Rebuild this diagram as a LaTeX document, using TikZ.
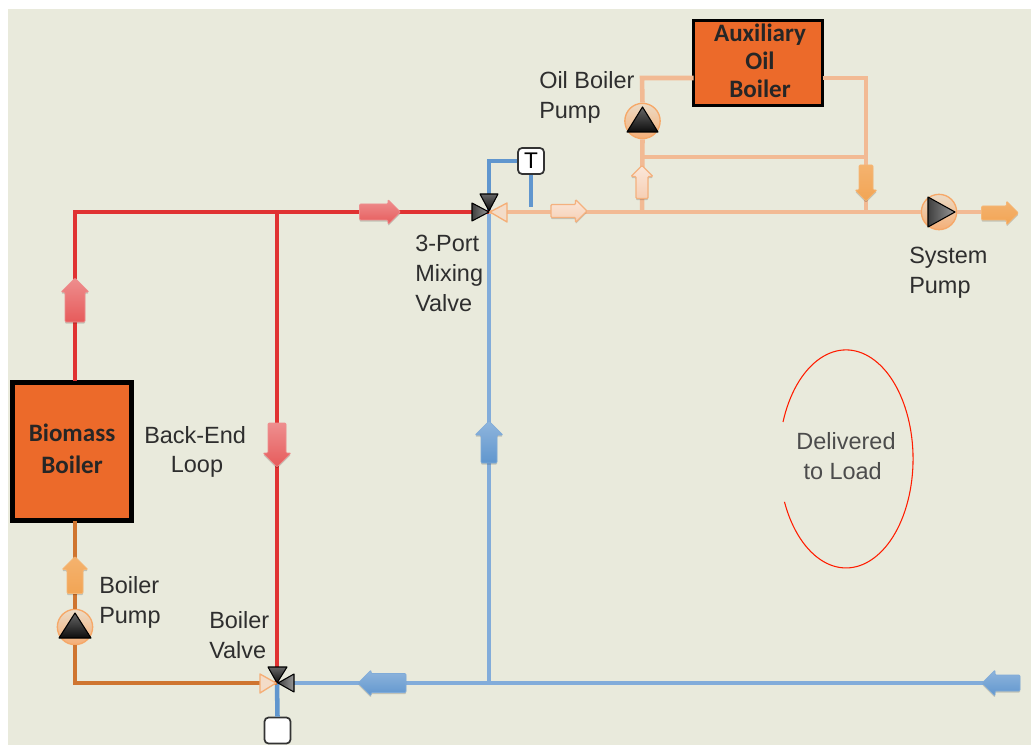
\documentclass[tikz,border=0pt]{standalone}
\usepackage{fontspec}
\setmainfont{Liberation Sans}
\newfontfamily\boxfont{Carlito}
\usetikzlibrary{shadings}
\definecolor{bg}{HTML}{E9EADC}
\definecolor{redpipe}{HTML}{E03232}
\definecolor{bluepipe}{HTML}{82ACDA}
\definecolor{bluedark}{HTML}{6096CE}
\definecolor{brownpipe}{HTML}{CF7530}
\definecolor{lightpipe}{HTML}{F2BA94}
\definecolor{boilerfill}{HTML}{EC6A2A}
\definecolor{labelgrey}{HTML}{2E2E2E}
\definecolor{arrorangec}{HTML}{F2A555}
\tikzset{
  x=0.75pt,y=-0.75pt,
  pipe/.style={line width=3.4pt,line join=miter},
  redline/.style={pipe,draw=redpipe},
  blueline/.style={pipe,draw=bluepipe},
  ctrlline/.style={pipe,draw=bluedark},
  brownline/.style={pipe,draw=brownpipe},
  lightline/.style={pipe,draw=lightpipe},
  boiler/.style={draw=black,fill=boilerfill,align=center,inner sep=0pt,outer sep=0pt,text=black!85},
  lbl/.style={align=left,anchor=north west,inner sep=0pt,text=labelgrey,
    font=\fontsize{17.6}{22.5}\selectfont},
  ctrl/.style={draw=black!80,fill=white,rounded corners=3pt,line width=1.3pt,
    minimum size=19.5pt,inner sep=0pt,font=\fontsize{17}{17}\selectfont},
  pumpring/.style={circle,draw=lightpipe!70!orange,line width=1pt,minimum size=26.5pt,inner sep=0pt,
    top color=bg!70!lightpipe,bottom color=lightpipe!80!orange},
  darktri/.style={draw=black,line width=0.8pt,line join=round,top color=black!60,bottom color=black!95},
  greytri/.style={draw=black,line width=0.8pt,line join=round,left color=black!75,right color=black!40},
  portL/.style={draw=lightpipe!80!orange,line width=1pt,line join=round,fill=bg!40!lightpipe!70!white},
  arrred/.style={top color=redpipe!55!white,bottom color=redpipe!80!white,draw=redpipe!55!white,line width=0.5pt},
  arrblue/.style={top color=bluedark!70!white,bottom color=bluedark,draw=bluedark!80!white,line width=0.5pt},
  arrorange/.style={top color=arrorangec!85!white,bottom color=arrorangec,draw=arrorangec!80!white,line width=0.5pt},
  arrpale/.style={top color=lightpipe!35!white,bottom color=lightpipe!70!white,draw=lightpipe!85!orange,line width=0.9pt},
  arrshadow/.style={fill=black,opacity=0.17},
}
% \blockarrow{rotation}{x}{y}{length}{shaft}{head}{fill style}
\newcommand{\arrowoutline}[3]{%
  (-#1/2,-#2/2) -- (#1/2-#3/2,-#2/2) -- (#1/2-#3/2,-#3/2) -- (#1/2,0)
  -- (#1/2-#3/2,#3/2) -- (#1/2-#3/2,#2/2) -- (-#1/2,#2/2) -- cycle}
\newcommand{\blockarrow}[7]{%
  \begin{scope}[shift={(#2,#3+1.6)},rotate=#1]
    \path[arrshadow,rounded corners=0.8pt] \arrowoutline{#4}{#5}{#6};
  \end{scope}
  \begin{scope}[shift={(#2,#3)},rotate=#1]
    \path[#7,rounded corners=0.8pt] \arrowoutline{#4}{#5}{#6};
  \end{scope}}
\begin{document}
\begin{tikzpicture}
\useasboundingbox (0,0) rectangle (1031,745);
\fill[bg] (8,9) rectangle (1031,745);
% fixed points
\coordinate (bbTop) at (75,381);
\coordinate (corner1) at (75,212);
\coordinate (teeTop) at (277,212);
\coordinate (mix) at (489,212);
\coordinate (mixTee) at (489,683);
\coordinate (bvalve) at (277,683);
\coordinate (corner2) at (75,683);
\coordinate (ctrlCorner) at (489,161);
\coordinate (sensorFoot) at (531,207);
\coordinate (teeA) at (642,212);
\coordinate (teeB) at (866,212);
\coordinate (byA) at (642,157);
\coordinate (byB) at (866,157);
\coordinate (cA) at (642,78);
\coordinate (cB) at (866,78);
\coordinate (outEnd) at (1000,212);
\coordinate (inEnd) at (1000,683);
% nodes
\node[boiler,line width=3.4pt,minimum width=89.6pt,minimum height=103.5pt,text depth=4.5pt,
  font=\boxfont\bfseries\fontsize{18.8}{24}\selectfont] (biomass) at (72,451.5) {Biomass\\Boiler};
\node[boiler,line width=2.4pt,minimum width=96.75pt,minimum height=63.75pt,text depth=3pt,
  font=\boxfont\bfseries\fontsize{18.8}{21}\selectfont] (aux) at (758,63) {\hspace*{3pt}Auxiliary\\\hspace*{3pt}Oil\\\hspace*{3pt}Boiler};
\node[ctrl] (tbox) at (531,161) {T};
\node[ctrl] (vbox) at (277.5,730.5) {};
\node[pumpring] (p1) at (642.5,121) {};
\node[pumpring] (p2) at (75,627) {};
\node[pumpring] (p3) at (939,212) {};
% pipes
\draw[blueline] (mix) -- (mixTee);
\draw[blueline] (bvalve) -- (inEnd);
\draw[ctrlline] (mix) -- (ctrlCorner) -- (tbox.west);
\draw[ctrlline] (tbox.south) -- (sensorFoot);
\draw[ctrlline] (bvalve) -- (vbox.north);
\draw[lightline] (mix) -- (p3.west);
\draw[lightline] (p3.east) -- (outEnd);
\draw[lightline] (teeA) -- (p1.south);
\draw[lightline] (p1.north) -- (cA) -- (cA -| aux.west);
\draw[lightline] (cB -| aux.east) -- (cB) -- (teeB);
\draw[lightline] (byA) -- (byB);
\draw[brownline] (biomass.south -| p2) -- (p2.north);
\draw[brownline] (p2.south) -- (corner2) -- (bvalve);
\draw[redline] (bbTop) -- (corner1) -- (mix);
\draw[redline] (teeTop) -- (bvalve);
% pump triangles
\draw[darktri] (642.5,107) -- (627,132) -- (658,132) -- cycle;
\draw[darktri] (75,613) -- (59,638) -- (91,638) -- cycle;
\draw[greytri] (928,197) -- (955,212) -- (928,227) -- cycle;
% valves
\draw[darktri] (480,194) -- (498,194) -- (489,211) -- cycle;
\draw[greytri] (472,203) -- (472,221) -- (489,212) -- cycle;
\draw[portL] (507,203) -- (507,222) -- (490,212) -- cycle;
\draw[darktri] (268,667) -- (287,667) -- (277,683) -- cycle;
\draw[greytri] (294,674) -- (294,692) -- (278,683) -- cycle;
\draw[portL] (260,674) -- (260,693) -- (276,683) -- cycle;
% flow arrows
\blockarrow{0}{380}{212}{41}{16}{25}{arrred}
\blockarrow{90}{75}{300}{44}{20}{28}{arrred}
\blockarrow{-90}{277}{445}{44}{18}{28}{arrred}
\blockarrow{90}{489}{442}{42}{16}{28}{arrblue}
\blockarrow{180}{382}{683}{48}{19}{26}{arrblue}
\blockarrow{180}{1001}{683}{38}{16}{26}{arrblue}
\blockarrow{90}{75}{575}{37}{16}{26}{arrorange}
\blockarrow{0}{1000}{213}{37}{14}{24}{arrorange}
\blockarrow{-90}{866}{183}{36}{14}{22}{arrorange}
\blockarrow{0}{569}{211}{36}{13}{23}{arrpale}
\blockarrow{90}{642}{182}{33}{12}{22}{arrpale}
% open ellipse
\draw[draw=red!78!orange,line width=0.8pt] (783,422) arc[start angle=160.2,end angle=-156.8,x radius=50.25pt,y radius=81.75pt];
% labels
\node[lbl] (l1) at (539,71) {Oil Boiler\\Pump};
\node[lbl] (l2) at (415,235) {3-Port\\Mixing\\Valve};
\node[lbl] (l3) at (909,247) {System\\Pump};
\node[lbl] (l4) at (144,426) {Back-End};
\node[lbl,anchor=north] (l5) at (197,456) {Loop};
\node[lbl] (l6) at (99,576) {Boiler\\Pump};
\node[lbl] (l7) at (209,611) {Boiler\\Valve};
\node[lbl,align=center,anchor=center,text=black!70] (l8) at (846,456.5) {Delivered\\to Load\hspace*{5pt}};
\end{tikzpicture}
\end{document}
